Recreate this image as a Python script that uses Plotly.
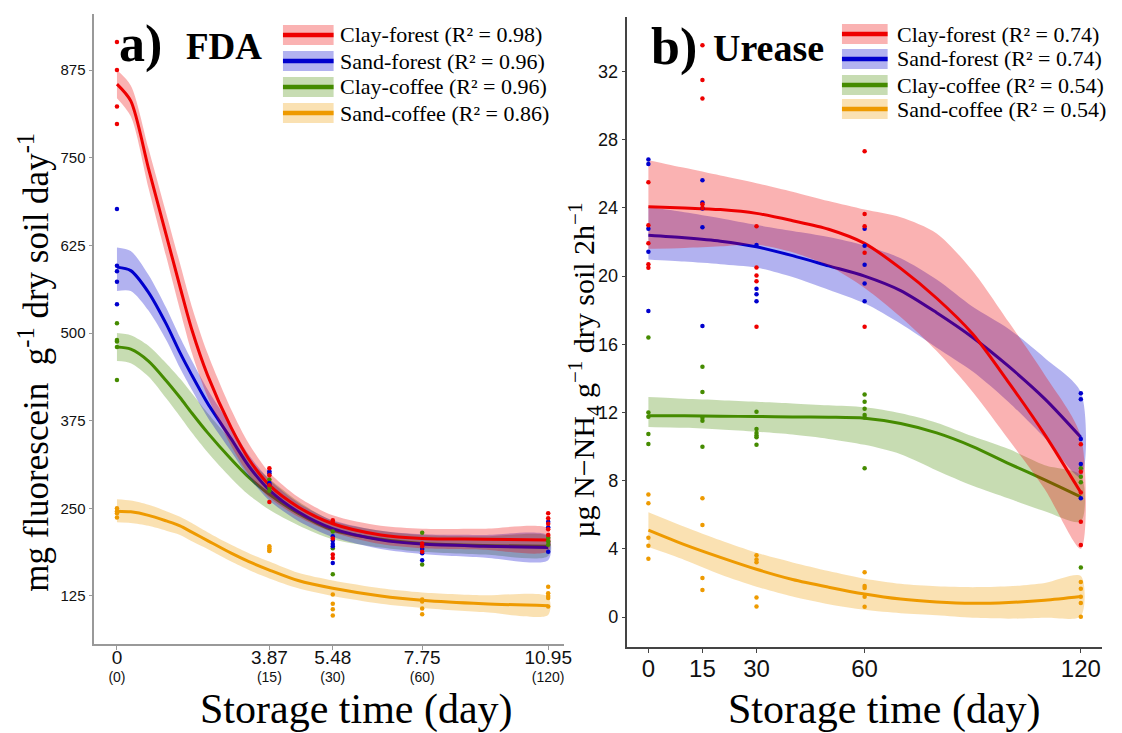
import plotly.graph_objects as go

W, H = 1122, 733

# ---------------- Panel a (FDA) ----------------
a_x_curve = [0, 0.35, 0.8, 1.25, 1.6, 1.9, 2.3, 2.9, 3.35, 3.87, 4.6, 5.48, 6.7, 7.75, 9.3, 10.95]

a_red_line = [855, 831, 735, 640, 566, 505, 440, 365, 320, 283, 252, 228, 212, 207, 206, 205]
a_red_up = [875, 853, 763, 671, 599, 538, 471, 391, 342, 301, 266, 240, 225, 221, 221, 221]
a_red_lo = [835, 809, 707, 609, 533, 472, 409, 339, 298, 265, 238, 216, 199, 193, 191, 189]

a_blue_line = [594, 589, 558, 513, 472, 440, 400, 349, 310, 276, 245, 221, 205, 199, 196, 194]
a_blue_up = [622, 617, 583, 536, 494, 461, 420, 367, 326, 291, 258, 233, 218, 213, 212, 211]
a_blue_lo = [560, 560, 532, 490, 450, 419, 380, 331, 294, 261, 232, 209, 192, 185, 180, 176]

a_green_line = [480, 477, 460, 432, 408, 386, 358, 320, 294, 270, 243, 219, 206, 200, 197, 196]
a_green_up = [500, 497, 482, 457, 435, 414, 386, 347, 319, 292, 260, 232, 218, 212, 210, 210]
a_green_lo = [460, 457, 438, 407, 381, 358, 330, 293, 269, 248, 226, 206, 194, 188, 184, 182]

a_orange_line = [246, 245, 240, 232, 225, 216, 204, 186, 174, 162, 147, 136, 125, 119, 114, 111]
a_orange_up = [263, 261, 255, 246, 238, 229, 216, 198, 186, 174, 158, 147, 136, 130, 126, 124]
a_orange_lo = [230, 229, 225, 218, 212, 203, 192, 174, 162, 150, 136, 125, 114, 108, 102, 98]

a_x_obs = [0, 3.87, 5.48, 7.75, 10.95]
a_red_pts = [[915, 875, 823, 798], [307, 297, 283, 259], [233, 230, 207, 184, 179], [200, 196, 188], [243, 236, 228, 220, 212]]
a_blue_pts = [[677, 596, 588, 573, 541], [303, 300, 286, 284], [210, 204, 199, 196, 172], [192, 186, 176], [231, 223, 188]]
a_green_pts = [[514, 490, 488, 480, 433], [291, 280, 275], [217, 193, 156], [215, 170], [208, 203, 198]]
a_orange_pts = [[250, 246, 243, 237], [196, 193, 190, 189], [127, 114, 106, 97], [120, 117, 107, 99], [138, 129, 125, 122, 110]]

a_xtick_vals = [0, 3.87, 5.48, 7.75, 10.95]
a_xtick_top = ["0", "3.87", "5.48", "7.75", "10.95"]
a_xtick_bot = ["(0)", "(15)", "(30)", "(60)", "(120)"]
a_ytick_vals = [125, 250, 375, 500, 625, 750, 875]
a_r2 = ["0.98", "0.96", "0.96", "0.86"]

# ---------------- Panel b (Urease) ----------------
b_x_curve = [0, 10, 20, 30, 40, 50, 60, 70, 80, 90, 100, 110, 120]

b_red_line = [24.07, 24.0, 23.9, 23.68, 23.25, 22.75, 21.92, 20.45, 18.7, 16.6, 13.75, 10.7, 7.3]
b_red_up = [26.8, 26.35, 25.9, 25.45, 24.95, 24.4, 23.9, 23.45, 22.5, 20.3, 17.3, 14.2, 10.6]
b_red_lo = [21.6, 21.65, 21.75, 21.85, 21.4, 20.6, 19.3, 17.6, 15.6, 13.2, 10.4, 7.5, 4.0]

b_blue_line = [22.4, 22.25, 22.05, 21.72, 21.2, 20.6, 20.0, 19.15, 17.85, 16.4, 14.7, 12.8, 10.55]
b_blue_up = [24.05, 23.75, 23.4, 23.0, 22.65, 22.3, 21.8, 21.05, 19.8, 18.2, 16.9, 15.2, 13.2]
b_blue_lo = [20.98, 20.85, 20.7, 20.5, 19.95, 19.2, 18.4, 17.2, 15.8, 14.4, 12.6, 10.5, 8.2]

b_green_line = [11.8, 11.8, 11.78, 11.76, 11.74, 11.72, 11.66, 11.35, 10.8, 10.0, 9.0, 8.05, 7.05]
b_green_up = [12.9, 12.8, 12.72, 12.63, 12.53, 12.42, 12.3, 11.95, 11.4, 10.6, 9.85, 8.9, 8.3]
b_green_lo = [11.15, 11.1, 11.0, 10.87, 10.7, 10.45, 10.1, 9.55, 8.6, 7.7, 6.95, 6.2, 5.6]

b_orange_line = [5.1, 4.25, 3.5, 2.8, 2.2, 1.75, 1.35, 1.05, 0.88, 0.8, 0.85, 0.98, 1.2]
b_orange_up = [6.15, 5.3, 4.5, 3.77, 3.2, 2.7, 2.25, 1.95, 1.8, 1.75, 1.8, 2.0, 2.4]
b_orange_lo = [4.1, 3.35, 2.5, 1.78, 1.2, 0.75, 0.42, 0.22, 0.1, -0.05, -0.1, -0.05, 0.05]

b_x_obs = [0, 15, 30, 60, 120]
b_red_pts = [[25.5, 22.99, 21.92, 20.70, 20.49], [33.55, 31.5, 30.42, 24.22, 24.0], [22.93, 20.51, 20.04, 19.7, 17.03],
             [27.33, 23.64, 22.93, 21.37, 17.03], [10.13, 8.52, 7.31, 5.59, 4.22]]
b_blue_pts = [[26.84, 26.57, 22.78, 21.43, 17.95], [25.63, 24.32, 23.97, 22.86, 17.07], [21.82, 19.26, 18.93, 18.52],
              [22.78, 21.78, 20.66, 19.57, 18.53], [13.12, 12.77, 10.44, 8.97, 6.96]]
b_green_pts = [[16.4, 12.0, 11.75, 10.73, 10.15], [14.68, 13.2, 11.69, 11.51, 9.99], [12.04, 11.03, 10.8, 10.65, 10.55, 10.1],
               [13.06, 12.63, 12.22, 11.85, 11.7, 8.72], [8.72, 8.23, 7.9, 2.91]]
b_orange_pts = [[7.18, 6.67, 4.65, 4.18, 3.42], [6.96, 5.40, 2.29, 1.58], [3.62, 3.38, 3.21, 1.15, 0.61],
                [2.62, 1.82, 1.7, 1.19, 0.6], [2.05, 1.66, 1.19, 0.82, 0.02]]

b_xtick_vals = [0, 15, 30, 60, 120]
b_ytick_vals = [0, 4, 8, 12, 16, 20, 24, 28, 32]
b_r2 = ["0.74", "0.74", "0.54", "0.54"]

series_names = ["Clay-forest", "Sand-forest", "Clay-coffee", "Sand-coffee"]
line_cols = ["#EE0000", "#0000CD", "#458B00", "#EE9A00"]
band_cols = ["rgba(238,0,0,0.3)", "rgba(0,0,205,0.3)", "rgba(69,139,0,0.3)", "rgba(238,154,0,0.3)"]

SERIF = "Liberation Serif, Times New Roman, serif"
NARROW = "Liberation Sans Narrow, Arial Narrow, Liberation Sans, Arial, sans-serif"
SANS = "Liberation Sans, Arial, sans-serif"

fig = go.Figure()

def add_panel(xa, ya, xc, lines, ups, los, xobs, pts):
    # draw order: orange, green, blue, red (band then line)
    for i in [3, 2, 1, 0]:
        fig.add_trace(go.Scatter(x=xc + xc[::-1], y=ups[i] + los[i][::-1], fill="toself",
                                 fillcolor=band_cols[i], line=dict(width=0, shape="spline", smoothing=0.8),
                                 mode="lines", hoverinfo="skip", showlegend=False, xaxis=xa, yaxis=ya))
        fig.add_trace(go.Scatter(x=xc, y=lines[i], mode="lines",
                                 line=dict(color=line_cols[i], width=3, shape="spline", smoothing=0.8),
                                 showlegend=False, xaxis=xa, yaxis=ya, name=series_names[i]))
    for i in [3, 2, 1, 0]:
        xs, ys = [], []
        for xv, vals in zip(xobs, pts[i]):
            for v in vals:
                xs.append(xv)
                ys.append(v)
        fig.add_trace(go.Scatter(x=xs, y=ys, mode="markers",
                                 marker=dict(color=line_cols[i], size=4.5, line=dict(width=0)),
                                 showlegend=False, xaxis=xa, yaxis=ya, name=series_names[i]))

add_panel("x", "y", a_x_curve,
          [a_red_line, a_blue_line, a_green_line, a_orange_line],
          [a_red_up, a_blue_up, a_green_up, a_orange_up],
          [a_red_lo, a_blue_lo, a_green_lo, a_orange_lo],
          a_x_obs, [a_red_pts, a_blue_pts, a_green_pts, a_orange_pts])
add_panel("x2", "y2", b_x_curve,
          [b_red_line, b_blue_line, b_green_line, b_orange_line],
          [b_red_up, b_blue_up, b_green_up, b_orange_up],
          [b_red_lo, b_blue_lo, b_green_lo, b_orange_lo],
          b_x_obs, [b_red_pts, b_blue_pts, b_green_pts, b_orange_pts])

# two-line tick labels for panel a: sqrt(day) on top, day below
a_ticktext = [f"<span style='font-size:19px'>{t}</span><br>{b}" for t, b in zip(a_xtick_top, a_xtick_bot)]

axis_common = dict(showgrid=False, zeroline=False, ticks="outside", ticklen=4, showline=True)

fig.update_layout(
    width=W, height=H,
    margin=dict(l=0, r=0, t=0, b=0),
    paper_bgcolor="white", plot_bgcolor="white",
    showlegend=False,
    xaxis=dict(domain=[95 / W, 568 / W], range=[-0.575, 11.35], anchor="y",
               tickvals=a_xtick_vals, ticktext=a_ticktext, ticklabelstandoff=-3,
               tickfont=dict(family=NARROW, size=14, color="#111"),
               linecolor="#999", tickcolor="#999", linewidth=1.5, **axis_common),
    yaxis=dict(domain=[1 - 644 / H, 1 - 14 / H], range=[56.5, 955], anchor="x",
               tickvals=a_ytick_vals, tickfont=dict(family=SANS, size=15, color="#111"),
               linecolor="#999", tickcolor="#999", linewidth=1.5, **axis_common),
    xaxis2=dict(domain=[632 / W, 1110 / W], range=[-5.8, 125.9], anchor="y2",
                tickvals=b_xtick_vals, ticklabelstandoff=-5,
                tickfont=dict(family=NARROW, size=24, color="#111"),
                linecolor="#444", tickcolor="#444", linewidth=1.5, **axis_common),
    yaxis2=dict(domain=[1 - 647 / H, 1 - 17 / H], range=[-1.76, 35.2], anchor="x2",
                tickvals=b_ytick_vals, tickfont=dict(family=SANS, size=18, color="#111"),
                linecolor="#444", tickcolor="#444", linewidth=1.5, **axis_common),
)

def px(x):
    return x / W

def py(y):
    return 1 - y / H

annotations = []
shapes = []

# Panel titles
annotations.append(dict(text="<b>a)</b>", x=px(118), y=py(44), xanchor="left", yanchor="middle",
                        font=dict(family=SERIF, size=52, color="black")))
annotations.append(dict(text="<b>FDA</b>", x=px(185), y=py(46), xanchor="left", yanchor="middle",
                        font=dict(family=SERIF, size=37, color="black")))
annotations.append(dict(text="<b>b)</b>", x=px(654), y=py(47), xanchor="left", yanchor="middle",
                        font=dict(family=SERIF, size=52, color="black")))
annotations.append(dict(text="<b>Urease</b>", x=px(716), y=py(48), xanchor="left", yanchor="middle",
                        font=dict(family=SERIF, size=38, color="black")))

# Axis titles
annotations.append(dict(text="Storage time (day)", x=px(359), y=py(709), xanchor="center", yanchor="middle",
                        font=dict(family=SERIF, size=42, color="black")))
annotations.append(dict(text="Storage time (day)", x=px(891), y=py(709), xanchor="center", yanchor="middle",
                        font=dict(family=SERIF, size=42, color="black")))
annotations.append(dict(text="mg fluorescein  g<sup>-1</sup> dry soil day<sup>-1</sup>", x=px(35), y=py(362),
                        xanchor="center", yanchor="middle", textangle=-90,
                        font=dict(family=SERIF, size=35, color="black")))
annotations.append(dict(text="µg N\u2212NH<sub>4</sub> g<sup>\u22121</sup> dry soil 2h<sup>\u22121</sup>", x=px(588), y=py(370),
                        xanchor="center", yanchor="middle", textangle=-90,
                        font=dict(family=SERIF, size=30, color="black")))

# Manual legends (band + line key)
def add_legend(x0, x1, xt, rows, r2s):
    for i, (yc, r2) in enumerate(zip(rows, r2s)):
        shapes.append(dict(type="rect", xref="paper", yref="paper", x0=px(x0), x1=px(x1),
                           y0=py(yc + 10), y1=py(yc - 10), fillcolor=band_cols[i], line=dict(width=0)))
        shapes.append(dict(type="line", xref="paper", yref="paper", x0=px(x0), x1=px(x1),
                           y0=py(yc), y1=py(yc), line=dict(color=line_cols[i], width=4.5)))
        annotations.append(dict(text=f"{series_names[i]} (R² = {r2})", x=px(xt), y=py(yc),
                                xanchor="left", yanchor="middle",
                                font=dict(family=SERIF, size=22, color="black")))

add_legend(285, 336, 340, [35, 61, 87, 113], a_r2)
add_legend(848, 894, 901, [34, 59, 85, 109], b_r2)

for a in annotations:
    a.setdefault("xref", "paper")
    a.setdefault("yref", "paper")
    a.setdefault("showarrow", False)

fig.update_layout(annotations=annotations, shapes=shapes)

fig.write_html("out.html")
